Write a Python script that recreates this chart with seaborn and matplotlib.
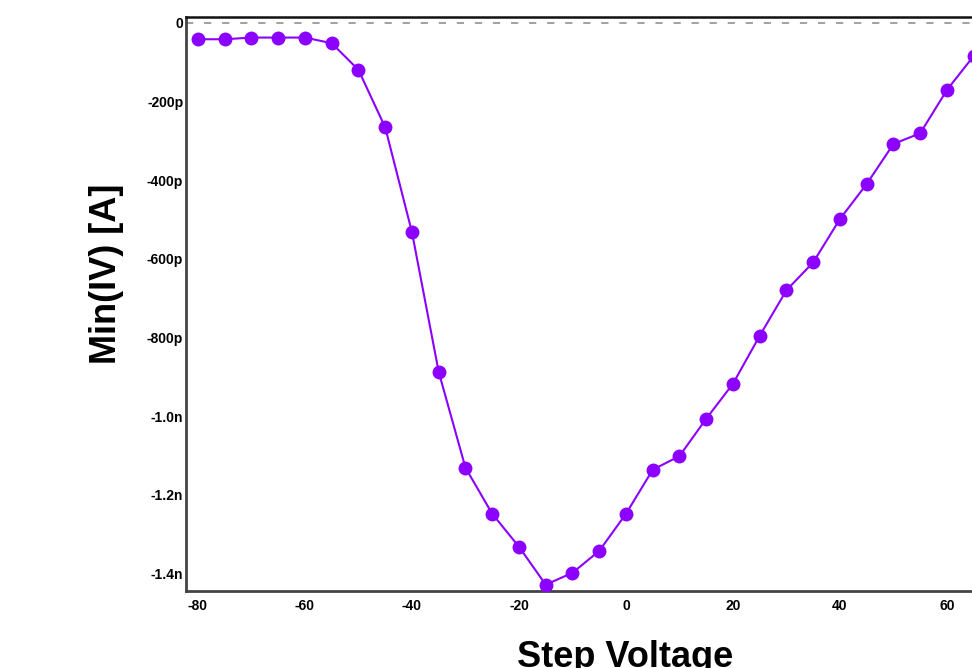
import numpy as np
import pandas as pd
import matplotlib
matplotlib.use("Agg")
import matplotlib.pyplot as plt
from matplotlib.ticker import FuncFormatter
import seaborn as sns

# Data (Step voltage in mV, minimum current in pA)
step_voltage = [-80, -75, -70, -65, -60, -55, -50, -45, -40, -35, -30, -25, -20, -15,
                -10, -5, 0, 5, 10, 15, 20, 25, 30, 35, 40, 45, 50, 55, 60, 65]
min_iv_pA = [-41.6, -41.6, -37.3, -37.3, -37.3, -51.7, -119.6, -266, -532.6, -888,
             -1131.5, -1248.6, -1332.5, -1429, -1398.7, -1343, -1248.6, -1136.6,
             -1101.8, -1006.8, -917.8, -795.7, -680, -609, -498.7, -409.7, -307.9,
             -280.7, -170.5, -84]
x_ticks = [-80, -60, -40, -20, 0, 20, 40, 60]
y_ticks_pA = [0, -200, -400, -600, -800, -1000, -1200, -1400]

df = pd.DataFrame({"Step Voltage": step_voltage,
                   "Min(IV) [A]": np.array(min_iv_pA) * 1e-12})

sns.set_style("white")
plt.rcParams["font.family"] = ["Liberation Sans", "DejaVu Sans"]
plt.rcParams["axes.unicode_minus"] = False
plt.rcParams["text.color"] = "black"
plt.rcParams["axes.labelcolor"] = "black"
plt.rcParams["xtick.color"] = "black"
plt.rcParams["ytick.color"] = "black"

fig = plt.figure(figsize=(9.72, 6.68), dpi=100)
ax = fig.add_axes([0.19136, 0.11527, 0.9053, 0.85928])

ax.axhline(0, color="#9a9a9a", linestyle=(0, (4, 6)), linewidth=1.3, zorder=1)

sns.lineplot(data=df, x="Step Voltage", y="Min(IV) [A]", ax=ax,
             color="#8b00ff", linewidth=1.5, marker="o", markersize=10,
             markeredgewidth=0, zorder=3)

ax.set_xlim(-82.24, 82.24)
ax.set_ylim(-1445e-12, 15e-12)
ax.set_xticks(x_ticks)
ax.set_yticks(np.array(y_ticks_pA) * 1e-12)


def yfmt(v, pos):
    if abs(v) < 1e-15:
        return "0"
    if abs(v) < 0.99e-9:
        return f"{v * 1e12:.0f}p"
    return f"{v * 1e9:.1f}n"


ax.yaxis.set_major_formatter(FuncFormatter(yfmt))
ax.tick_params(axis="both", length=0, labelsize=10, colors="black")
ax.tick_params(axis="y", pad=2)
ax.tick_params(axis="x", pad=6)
for lbl in ax.get_xticklabels() + ax.get_yticklabels():
    lbl.set_fontweight("bold")

ax.set_xlabel("Step Voltage", fontsize=26, fontweight="bold", color="black")
ax.set_ylabel("Min(IV) [A]", fontsize=26, fontweight="bold", color="black")
ax.xaxis.set_label_coords(0.499, -0.085)
ax.yaxis.set_label_coords(-0.0705, 0.552)

for side in ["left", "bottom"]:
    ax.spines[side].set_color("#444444")
    ax.spines[side].set_linewidth(2)
ax.spines["top"].set_color("#111111")
ax.spines["top"].set_linewidth(1.8)
ax.spines["right"].set_visible(False)

fig.savefig("out.png", dpi=100)
